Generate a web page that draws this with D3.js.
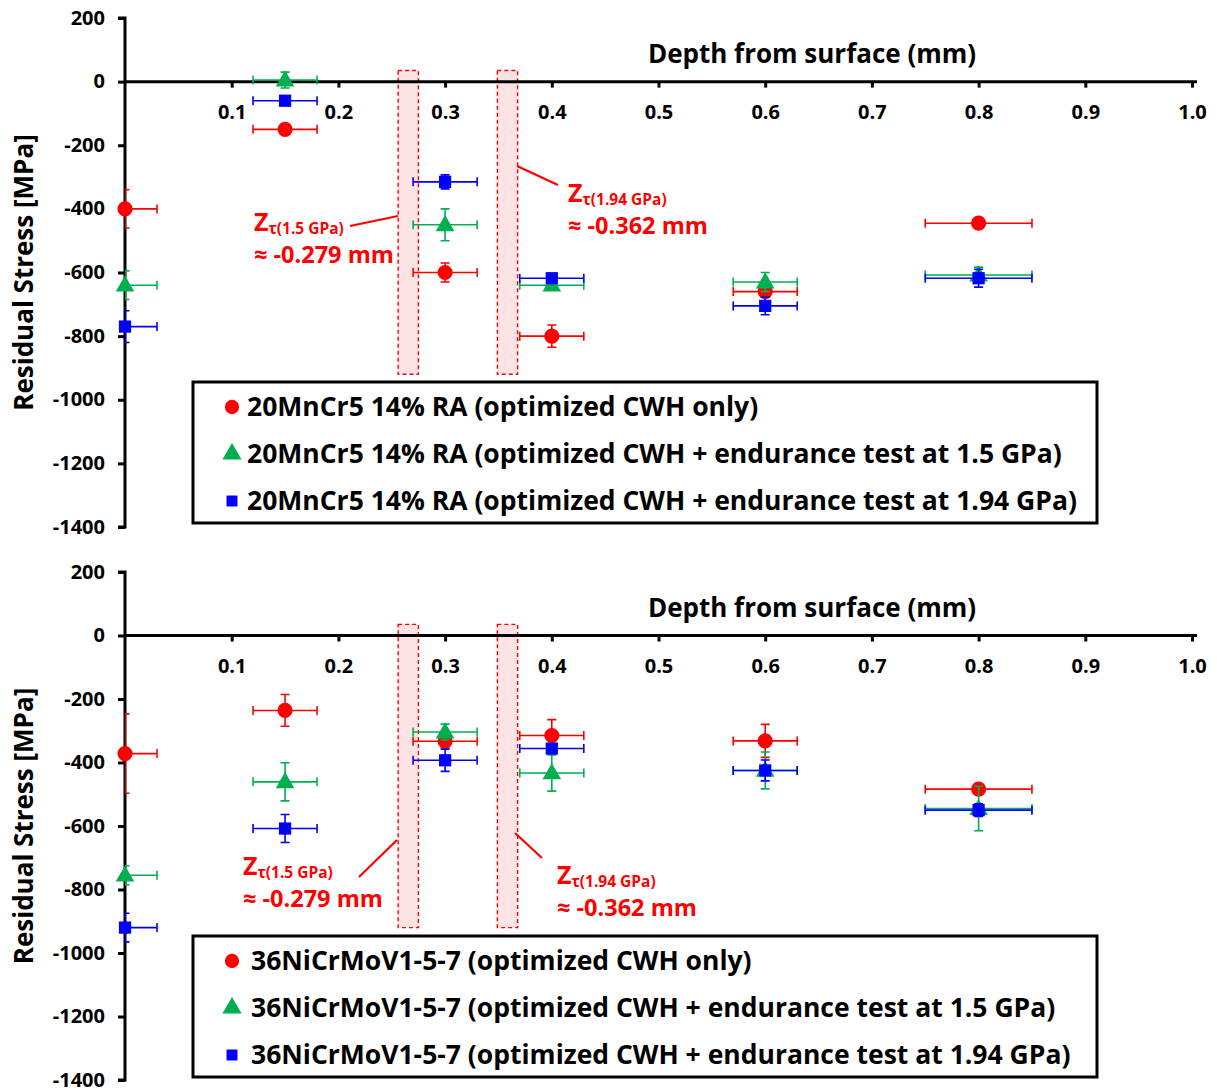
<!DOCTYPE html>
<html>
<head>
<meta charset="utf-8">
<script src="https://cdn.jsdelivr.net/npm/d3@7"></script>
<style>
  html, body { margin: 0; padding: 0; background: #fff; }
  svg { display: block; }
  text { font-family: "Open Sans", Lato, sans-serif; font-weight: bold; }
</style>
</head>
<body>
<svg id="chart" width="1217" height="1091"></svg>
<script>
// Measurement depths (mm) and their horizontal uncertainty
const depthMm  = [0, 0.15, 0.3, 0.4, 0.6, 0.8];
const depthErr = [0.03, 0.03, 0.03, 0.03, 0.03, 0.05];

// 20MnCr5 14% RA residual stress (MPa) and uncertainty
const mnCrCwh      = [-400, -150, -600, -800, -660, -445];
const mnCrCwhErr   = [60, 12, 30, 35, 12, 12];
const mnCr15       = [-640, 5, -450, -640, -630, -608];
const mnCr15Err    = [45, 25, 50, 12, 30, 25];
const mnCr194      = [-770, -60, -315, -618, -705, -618];
const mnCr194Err   = [50, 10, 22, 12, 28, 28];

// 36NiCrMoV1-5-7 residual stress (MPa) and uncertainty
const niCrCwh      = [-372, -236, -333, -315, -332, -484];
const niCrCwhErr   = [125, 50, 20, 50, 52, 15];
const niCr15       = [-755, -461, -304, -433, -425, -545];
const niCr15Err    = [30, 60, 25, 57, 58, 70];
const niCr194      = [-920, -608, -393, -356, -425, -550];
const niCr194Err   = [45, 44, 35, 12, 33, 20];

// Axis ticks
const xTicks = [0.1, 0.2, 0.3, 0.4, 0.5, 0.6, 0.7, 0.8, 0.9, 1.0];
const yTicks = [200, 0, -200, -400, -600, -800, -1000, -1200, -1400];

// Critical shear-stress depth bands (mm) and their vertical extent (MPa)
const bandDepths = [[0.256, 0.275], [0.349, 0.368]];
const bandStress = [35, -920];

const legendTop = [
  "20MnCr5 14% RA (optimized CWH only)",
  "20MnCr5 14% RA (optimized CWH + endurance test at 1.5 GPa)",
  "20MnCr5 14% RA (optimized CWH + endurance test at 1.94 GPa)"
];
const legendBottom = [
  "36NiCrMoV1-5-7 (optimized CWH only)",
  "36NiCrMoV1-5-7 (optimized CWH + endurance test at 1.5 GPa)",
  "36NiCrMoV1-5-7 (optimized CWH + endurance test at 1.94 GPa)"
];

const RED = "#FF0000", GREEN = "#00B050", BLUE = "#0000FF";
const seriesStyle = [
  { color: RED,   shape: d3.symbolCircle,   size: 180 },
  { color: GREEN, shape: d3.symbolTriangle, size: 150 },
  { color: BLUE,  shape: d3.symbolSquare,   size: 150 }
];

const svg = d3.select("#chart");
const x = d3.scaleLinear().domain([0, 1]).range([125, 1192]);

function drawPanel(opts) {
  const y = d3.scaleLinear().domain([-1400, 200]).range([opts.yBottom, opts.yTop]);
  const g = svg.append("g");
  const clipId = "clip" + opts.id;
  svg.append("defs").append("clipPath").attr("id", clipId)
    .append("rect").attr("x", x(0)).attr("y", opts.yTop - 20)
    .attr("width", 1217 - x(0)).attr("height", opts.yBottom - opts.yTop + 40);

  // shaded depth bands
  g.selectAll("rect.band").data(bandDepths).join("rect")
    .attr("class", "band")
    .attr("x", d => x(d[0])).attr("width", d => x(d[1]) - x(d[0]))
    .attr("y", y(bandStress[0])).attr("height", y(bandStress[1]) - y(bandStress[0]))
    .attr("fill", "#FDE3E3").attr("stroke", RED).attr("stroke-width", 1.4)
    .attr("stroke-dasharray", "4,3");

  // axes
  const yAxis = g.append("g").attr("transform", `translate(${x(0)},0)`)
    .call(d3.axisLeft(y).tickValues(yTicks).tickSize(7).tickPadding(13).tickFormat(d => String(d)));
  yAxis.select(".domain").attr("stroke-width", 3).attr("d", `M-7,${y(200)}H0V${y(-1400)}H-7`);
  yAxis.selectAll(".tick line").attr("stroke-width", 3);
  yAxis.selectAll(".tick text").attr("font-size", 20).attr("font-family", "Open Sans").attr("font-weight", "bold")
    .attr("dy", "0.3em");

  const xAxis = g.append("g").attr("transform", `translate(0,${y(0)})`)
    .call(d3.axisBottom(x).tickValues(xTicks).tickSize(6).tickPadding(17).tickFormat(d3.format(".1f")));
  xAxis.select(".domain").attr("stroke-width", 3).attr("d", `M${x(0)},0H${x(1) + 5}`);
  xAxis.selectAll(".tick line").attr("stroke-width", 3);
  xAxis.selectAll(".tick text").attr("font-size", 20).attr("font-family", "Open Sans").attr("font-weight", "bold");

  g.append("text").attr("x", 812).attr("y", y(0) - 19).attr("text-anchor", "middle")
    .attr("font-size", 26).text("Depth from surface (mm)");

  g.append("text")
    .attr("transform", `translate(33,${(y(200) + y(-1400)) / 2}) rotate(-90)`)
    .attr("text-anchor", "middle").attr("font-size", 26).text("Residual Stress [MPa]");

  // data series: error bars, then markers
  opts.series.forEach((vals, si) => {
    const errs = opts.errors[si];
    const st = seriesStyle[si];
    const pts = vals.map((v, i) => ({ d: depthMm[i], v, dx: depthErr[i], dy: errs[i] }));
    const eb = g.append("g").attr("clip-path", `url(#${clipId})`)
      .attr("stroke", st.color).attr("stroke-width", 1.6).attr("fill", "none");
    const cap = 4.5;
    pts.forEach(p => {
      const cx = x(p.d), cy = y(p.v);
      const x0 = x(p.d - p.dx), x1 = x(p.d + p.dx);
      const y0 = y(p.v + p.dy), y1 = y(p.v - p.dy);
      eb.append("path").attr("d",
        `M${x0},${cy}H${x1}M${x0},${cy - cap}V${cy + cap}M${x1},${cy - cap}V${cy + cap}` +
        `M${cx},${y0}V${y1}M${cx - cap},${y0}H${cx + cap}M${cx - cap},${y1}H${cx + cap}`);
    });
    g.append("g").selectAll("path").data(pts).join("path")
      .attr("transform", p => `translate(${x(p.d)},${y(p.v) + (si === 1 ? 1 : 0)})`)
      .attr("d", d3.symbol().type(st.shape).size(st.size))
      .attr("fill", st.color);
  });

  // annotations
  opts.notes.forEach(n => {
    g.append("line").attr("x1", n.line[0]).attr("y1", n.line[1])
      .attr("x2", n.line[2]).attr("y2", n.line[3])
      .attr("stroke", RED).attr("stroke-width", 2.2);
    const t = g.append("text").attr("x", n.x).attr("y", n.y - 1).attr("fill", RED).attr("font-size", 25);
    t.append("tspan").text("Z");
    t.append("tspan").attr("font-size", 15.5).attr("dy", 3).text("τ(" + n.load + ")");
    g.append("text").attr("x", n.x).attr("y", n.y + 31).attr("fill", RED).attr("font-size", 23.5)
      .text("≈ -" + n.depth + " mm");
  });

  // legend
  const lg = g.append("g");
  lg.append("rect").attr("x", 193).attr("y", opts.legendY).attr("width", 904).attr("height", 141)
    .attr("fill", "#fff").attr("stroke", "#000").attr("stroke-width", 3);
  opts.legend.forEach((label, i) => {
    const st = seriesStyle[i];
    const ly = opts.legendY + 25 + i * 47;
    lg.append("path").attr("transform", `translate(232,${ly})`)
      .attr("d", d3.symbol().type(st.shape).size(i === 2 ? 120 : 160)).attr("fill", st.color);
    lg.append("text").attr("x", opts.legendTextX).attr("y", ly + 9).attr("font-size", 26.5)
      .text(label);
  });
}

drawPanel({
  id: "top", yTop: 18, yBottom: 527,
  series: [mnCrCwh, mnCr15, mnCr194], errors: [mnCrCwhErr, mnCr15Err, mnCr194Err],
  legend: legendTop, legendY: 382, legendTextX: 247,
  notes: [
    { x: 254, y: 232, load: "1.5 GPa", depth: "0.279", line: [350, 226, 398, 216] },
    { x: 568, y: 203, load: "1.94 GPa", depth: "0.362", line: [517, 166, 558, 185] }
  ]
});

drawPanel({
  id: "bottom", yTop: 572, yBottom: 1080,
  series: [niCrCwh, niCr15, niCr194], errors: [niCrCwhErr, niCr15Err, niCr194Err],
  legend: legendBottom, legendY: 936, legendTextX: 251,
  notes: [
    { x: 243, y: 876, load: "1.5 GPa", depth: "0.279", line: [359, 877, 397, 840] },
    { x: 557, y: 885, load: "1.94 GPa", depth: "0.362", line: [515, 833, 542, 858] }
  ]
});
</script>
</body>
</html>
